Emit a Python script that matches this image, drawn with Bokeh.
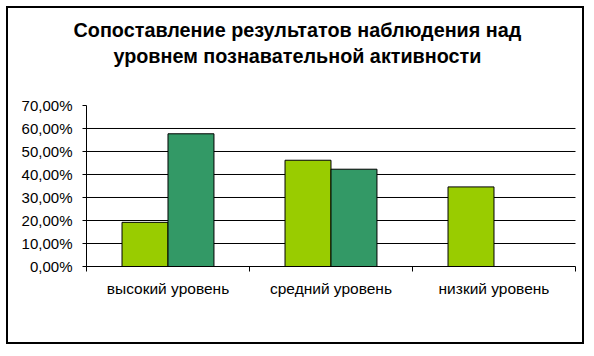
from bokeh.plotting import figure
from bokeh.models import Range1d, FixedTicker, Label, ColumnDataSource
from bokeh.transform import dodge
from bokeh.embed import file_html
from bokeh.resources import INLINE

categories = ["высокий уровень", "средний уровень", "низкий уровень"]
series_1 = [19.2, 46.2, 34.6]
series_2 = [57.7, 42.3, 0.0]
y_ticks = [0, 10, 20, 30, 40, 50, 60, 70]
y_tick_labels = ["0,00%", "10,00%", "20,00%", "30,00%", "40,00%", "50,00%", "60,00%", "70,00%"]
title_lines = ["Сопоставление результатов наблюдения над",
               "уровнем познавательной активности"]

FONT = "Liberation Sans"
n = len(categories)
xs = [i + 0.5 for i in range(n)]
src = ColumnDataSource(dict(x=xs, s1=series_1, s2=series_2))

# The frame covers the whole canvas (so the title and tick labels are not
# clipped); both axes are placed at fixed locations and bounded.
p = figure(width=578, height=338, x_range=Range1d(-0.4785, n + 0.0675),
           y_range=Range1d(-34.78, 112.17),
           output_backend="svg", toolbar_location=None,
           min_border_left=0, min_border_right=0,
           min_border_top=0, min_border_bottom=0)
p.styles = {"border": "2px solid black", "margin-left": "6px", "margin-top": "6px"}
p.outline_line_color = None
p.background_fill_color = "white"
p.border_fill_color = "white"
p.xgrid.visible = False
p.ygrid.visible = False

# horizontal gridlines across the category span
grid_y = y_ticks[1:-1]
p.segment(x0=[0] * len(grid_y), x1=[n] * len(grid_y), y0=grid_y, y1=grid_y,
          line_color="black", line_width=1)

bw = 0.282
p.vbar(x=dodge("x", -bw / 2, range=p.x_range), top="s1", width=bw, source=src,
       fill_color="#99CC00", line_color="black", line_width=1)
p.vbar(x=dodge("x", bw / 2, range=p.x_range), top="s2", width=bw, source=src,
       fill_color="#339966", line_color="black", line_width=1)

# x axis
xa = p.xaxis[0]
xa.fixed_location = 0
xa.bounds = (0, n)
xa.ticker = FixedTicker(ticks=xs, minor_ticks=list(range(n + 1)))
xa.major_label_overrides = {x: c for x, c in zip(xs, categories)}
xa.major_tick_out = 0
xa.major_tick_in = 0
xa.minor_tick_out = 5
xa.minor_tick_in = 0
xa.minor_tick_line_color = "black"
xa.axis_line_color = "black"
xa.major_label_standoff = 8
xa.major_label_text_font = FONT
xa.major_label_text_font_size = "15.5px"
xa.major_label_text_color = "black"

# y axis
ya = p.yaxis[0]
ya.fixed_location = 0
ya.bounds = (y_ticks[0], y_ticks[-1])
ya.ticker = FixedTicker(ticks=y_ticks)
ya.major_label_overrides = {t: l for t, l in zip(y_ticks, y_tick_labels)}
ya.major_tick_out = 4
ya.major_tick_in = 0
ya.minor_tick_out = 0
ya.minor_tick_in = 0
ya.major_tick_line_color = "black"
ya.axis_line_color = "black"
ya.major_label_standoff = 10
ya.major_label_text_font = FONT
ya.major_label_text_font_size = "15px"
ya.major_label_text_color = "black"

# title as two centered lines
for i, line in enumerate(title_lines):
    p.add_layout(Label(x=1.294, y=102.7 - 11.0 * i, text=line,
                       text_align="center", text_baseline="alphabetic",
                       text_font=FONT, text_font_size="19.8px",
                       text_font_style="bold", text_color="black"))

open("out.html", "w").write(file_html(p, INLINE))
